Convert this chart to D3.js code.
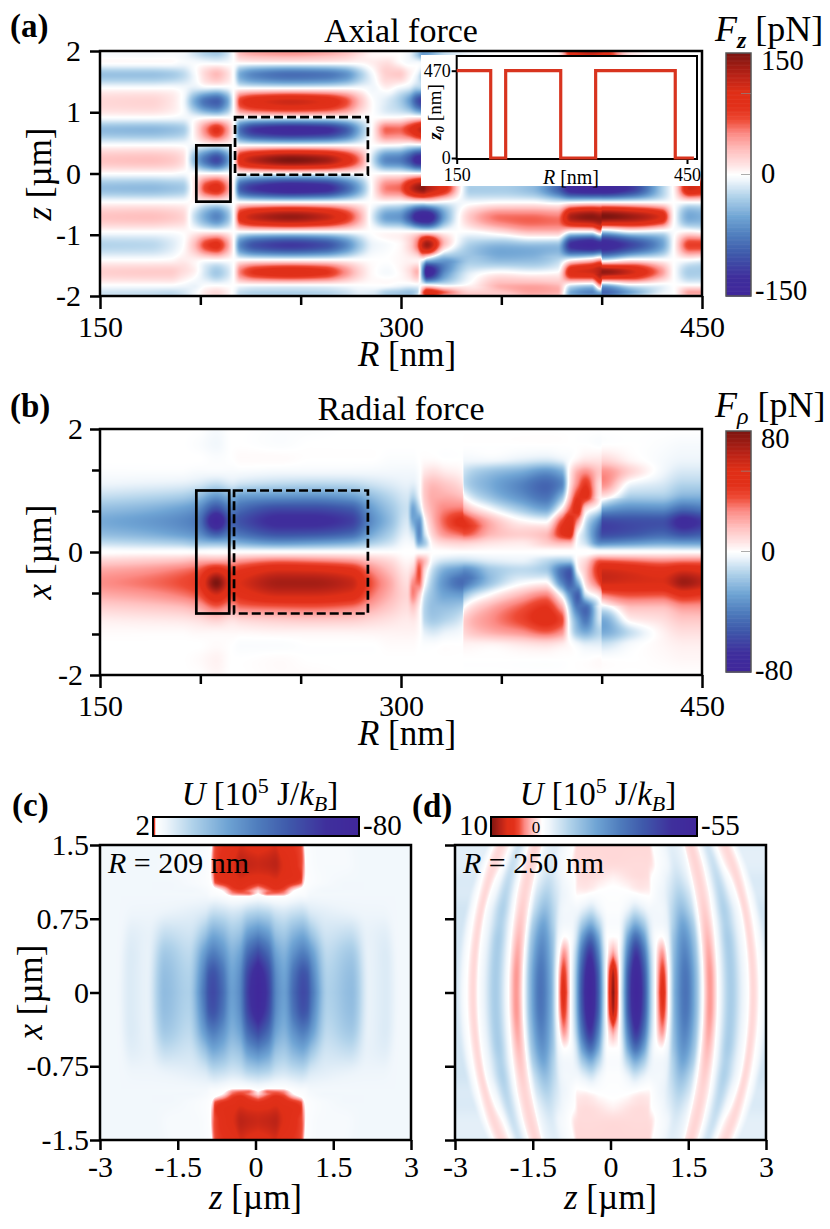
<!DOCTYPE html>
<html><head><meta charset="utf-8">
<script src="https://cdn.jsdelivr.net/npm/d3@7"></script>
<style>
html,body{margin:0;padding:0;background:#fff}
text{font-family:"Liberation Serif",serif;fill:#000}
</style></head><body><svg id="c" width="830" height="1229"></svg>
<script>
// ---------- Panel (a): Fz [pN], one array per R column ----------
const aZ=[2,1.93,1.8,1.61,1.39,1.17,.92,.71,.46,.22,0,-.24,-.47,-.71,-.95,-1.17,-1.41,-1.61,-1.82,-1.93,-2];
const aR=[150,175,185,191,197,203,208,213,216.5,220,228,245,262,272,280,286,293,299,304,308,311,313,322,335,350,365,378,385,395,399.5,400.5,415,430,436,444,450];
const aF=[
[-3,-3,0,-36,0,18,0,-40,0,28,0,-38,0,28,0,-26,0,22,0,-16,-16],
[-4,-4,0,-36,0,20,0,-42,0,30,0,-40,0,30,0,-24,0,24,0,-18,-18],
[-3,-3,0,-32,0,12,-2,-38,0,26,0,-36,0,26,0,-14,2,24,0,-20,-20],
[-3,-5,-4,-24,-4,-2,-5,-32,-1,16,-3,-32,0,20,2,-2,8,16,-4,-16,-16],
[-15,-15,-3,-5,-12,-48,-6,6,-6,-40,0,12,2,-20,4,30,6,6,-8,-6,-5],
[-25,-25,-2,20,-10,-85,-5,55,-5,-85,0,75,-2,-52,5,75,3,-18,-2,10,8],
[-30,-28,-3,32,-12,-95,-5,85,-5,-110,0,90,-2,-70,5,88,4,-32,-2,16,12],
[-18,-18,-3,18,-8,-60,-3,50,-3,-70,0,55,-2,-45,3,50,2,-20,-2,8,5],
[2,0,0,-2,0,-2,0,3,0,-2,0,2,0,-2,0,2,0,0,0,-3,-3],
[30,28,0,-50,0,75,0,-85,0,95,0,-95,0,90,0,-70,0,55,0,-20,-18],
[40,36,0,-72,0,98,0,-125,0,125,0,-125,0,120,0,-105,0,85,0,-25,-22],
[45,40,0,-85,0,112,0,-140,0,150,0,-146,0,138,0,-120,0,98,0,-26,-24],
[38,34,0,-80,0,100,0,-132,0,135,0,-135,0,118,0,-105,0,85,0,-24,-22],
[28,26,0,-65,0,72,0,-100,0,100,0,-95,0,85,0,-72,0,50,0,-18,-16],
[15,12,2,-30,-2,28,-2,-40,0,50,0,-45,0,35,0,-30,0,18,0,-10,-10],
[6,4,8,-4,-6,0,0,5,0,-20,0,5,0,-15,0,-8,0,2,0,-12,-12],
[3,3,15,22,5,-14,0,62,0,-70,0,55,0,-55,0,-3,0,-4,0,-26,-26],
[1,0,4,25,-6,-28,0,60,-2,-75,0,60,-2,-60,0,2,3,2,-4,-30,-30],
[-5,-8,-3,8,-14,-55,5,80,-10,-100,0,105,-2,-95,0,18,6,14,-6,-35,-30],
[-25,-30,-3,-8,-30,-100,6,105,-10,-135,0,135,-2,-140,0,55,6,35,-4,-25,-10],
[-50,-55,-5,-30,-30,-120,6,120,-10,-140,0,145,-3,-150,0,120,-4,-70,0,60,50],
[-50,-50,0,-20,0,-100,0,100,0,-100,0,130,0,-150,0,135,-30,-150,0,100,80],
[-20,-20,0,0,0,0,0,0,0,0,0,90,-5,-50,0,25,-55,-65,-10,60,40],
[-5,-5,0,0,0,0,0,0,0,0,0,-30,-5,28,0,-30,-32,-12,5,20,25],
[0,0,0,0,0,0,0,0,0,0,0,-30,0,58,15,-42,-42,0,35,28,20],
[0,0,0,0,0,0,0,0,0,0,0,-40,0,60,32,-38,-40,-5,38,42,32],
[5,5,0,0,0,0,0,0,0,0,0,-90,-10,55,32,-38,-26,0,32,38,26],
[100,80,0,0,0,0,0,0,0,0,0,-140,-5,130,0,-130,0,100,-10,-50,-40],
[130,100,0,0,0,0,0,0,0,0,0,-150,0,145,0,-150,20,110,-20,-70,-50],
[120,90,0,0,0,0,0,0,0,0,0,-150,0,140,40,-140,40,130,50,-40,-60],
[110,90,0,0,0,0,0,0,0,0,0,-150,0,150,-30,-140,-20,140,-40,-90,-70],
[10,10,0,0,0,0,0,0,0,0,0,-120,0,135,-5,-110,5,110,-5,-50,-30],
[0,0,0,0,0,0,0,0,0,0,0,-30,0,100,-10,-55,0,45,-5,-10,0],
[0,0,0,0,0,0,0,0,0,0,0,5,0,2,-2,0,0,0,0,0,0],
[0,0,0,0,0,0,0,0,0,0,0,110,0,-50,5,75,0,-30,0,40,30],
[0,0,0,0,0,0,0,0,0,0,0,100,0,-45,0,75,-5,-30,0,40,30]
];
// ---------- Panel (b): Frho [pN], upper half; lower half has opposite sign ----------
const bX=[2,1.75,1.5,1.3,1.1,.9,.7,.5,.3,.15,.03,0];
const bR=[150,170,190,199,208,216,220,240,255,275,285,295,303,306,309,312,316,322,330.5,331.5,345,360,372,380,384,388,392,399.5,400.5,415,430,441,450];
const bF=[
[0,0,0,-1,-4,-11,-20,-26,-21,-11,-1,0],
[0,0,0,-1,-5,-13,-23,-30,-24,-13,-2,0],
[0,0,0,-1,-6,-16,-29,-36,-30,-16,-2,0],
[0,-1,0,-2,-8,-21,-35,-42,-35,-20,-3,0],
[-2,-3,-1,-2,-12,-32,-56,-80,-52,-22,-2,0],
[0,0,0,-2,-8,-24,-40,-50,-40,-22,-3,0],
[0,0,1,-2,-10,-30,-46,-55,-44,-25,-4,0],
[-1,-1,1,-3,-13,-33,-58,-70,-56,-32,-5,0],
[-1,0,0,-3,-14,-34,-58,-70,-55,-30,-5,0],
[0,0,0,-3,-13,-30,-52,-62,-48,-25,-4,0],
[0,0,0,-3,-10,-21,-31,-36,-28,-16,-3,0],
[0,0,-1,-3,-7,-13,-18,-20,-15,-9,-2,0],
[0,0,-1,-3,-5,-8,-10,-8,-5,-2,0,0],
[0,0,-1,-3,-6,-14,-28,-26,-12,-4,0,0],
[0,0,0,-1,-2,-4,-14,-32,-36,-26,-3,0],
[0,0,1,6,13,14,10,0,-8,-16,-3,0],
[0,0,1,8,17,20,20,18,12,4,0,0],
[0,0,0,5,14,20,28,34,26,10,1,0],
[0,0,0,2,7,16,30,46,34,12,2,0],
[0,0,-3,-10,-12,0,20,44,36,12,2,0],
[0,0,-3,-20,-26,-20,-2,18,18,7,1,0],
[0,0,-6,-26,-38,-34,-18,2,12,5,1,0],
[0,0,-8,-34,-48,-44,-28,-2,16,12,1,0],
[0,0,-5,-26,-38,-22,3,36,44,18,1,0],
[0,0,-1,3,5,14,32,50,52,18,1,0],
[0,0,3,20,28,42,50,26,2,-2,0,0],
[0,0,6,26,42,46,10,-8,-14,-10,0,0],
[0,-1,6,14,8,4,-10,-42,-52,-36,-4,0],
[0,0,10,26,26,6,-28,-58,-58,-36,-4,0],
[0,0,2,10,-4,-16,-36,-56,-54,-32,-4,0],
[0,-1,-2,-3,-8,-16,-35,-55,-48,-28,-4,0],
[0,-2,-4,-8,-14,-24,-46,-72,-56,-30,-5,0],
[0,-2,-4,-8,-14,-24,-42,-64,-52,-30,-5,0]
];
// ---------- Panel (c): U, one array per x row; both axes mirrored ----------
const cDz=[0,.2,.36,.5,.7,.87,.94,1.05,1.35,1.8,2.15,2.47,2.75,3.05,3.6];
const cX=[0,.2,.4,.6,.8,.98,1.04,1.12,1.3,1.5];
const cU=[
[-80,-62,-36,-30,-48,-58,-56,-42,-15,-21,-5,-7,-3,-3,-3],
[-75,-58,-34,-28,-44,-54,-52,-38,-14,-20,-5,-7,-3,-3,-3],
[-58,-46,-28,-24,-34,-40,-38,-30,-12,-17,-5,-7,-3,-3,-3],
[-36,-30,-19,-17,-23,-26,-24,-18,-9,-11,-5,-6,-3,-3,-3],
[-16,-14,-10,-9,-11,-12,-11,-8,-6,-5,-4,-4,-3,-3,-3],
[-1,0,.05,0,-1,-2,-2,-3,-3,-3,-3,-3,-3,-3,-3],
[.3,.8,1,.9,.2,-.5,-1,-2,-3,-3,-3,-3,-3,-3,-3],
[1.1,1.2,1.3,1.2,1.1,.9,.1,-1,-2,-3,-3,-3,-3,-3,-3],
[1.5,1.55,1.6,1.4,1.2,1,.7,-1,-2,-2,-3,-3,-3,-3,-3],
[1.2,1.3,1.4,1.2,1.1,1,.8,-1,-2,-2,-3,-3,-3,-3,-3]
];
const cRingLength=3.5;
// ---------- Panel (d): U, rows of x, columns in ring coordinate; both axes mirrored ----------
const dDz=[0,.1,.17,.3,.45,.6,.75,.85,.96,1.07,1.2,1.4,1.6,1.75,1.87,2,2.27,2.5,2.7,2.85,3.05,3.8];
const dX=[0,.2,.4,.55,.7,.85,1,1.15,1.3,1.5];
const dU=[
[10,3,-8,-38,-55,-38,-8,2,6,0,-18,-30,-15,.5,3,.5,-11,-3,1.2,-.5,-6,-6],
[8.5,2.5,-7,-36,-52,-36,-8,1.5,5,0,-17,-29,-15,.5,3,.5,-11,-3,1.2,-.5,-6,-6],
[3,.5,-6,-28,-44,-30,-7,.5,3,-1,-15,-26,-14,.5,2.6,.4,-11,-3,1.2,-.5,-6,-6],
[.3,0,-4,-20,-32,-22,-5,-.5,.4,-2,-13,-23,-13,.5,2.2,.4,-11,-3,1.2,-.5,-6,-6],
[-1,-1,-3,-10,-17,-12,-4,-2,-2,-3,-10,-19,-11,.5,1.8,.4,-10,-3,1.2,-.4,-6,-6],
[-.5,-.5,-1,-3,-6,-4,-2,-2,-2,-3,-8,-14,-8,.5,1.5,.4,-10,-3,1.2,-.3,-6,-6],
[-.3,-.3,-.3,-.4,-.3,.1,.2,-.8,-2,-3,-6,-10,-6,.6,1.3,.5,-9,-2,1.2,-.2,-5,-5],
[.3,.4,.5,.7,.9,1,.9,-.2,-1,-2,-4,-7,-4,.7,1.3,.5,-8,-1,1.2,0,-5,-5],
[1.1,1.1,1.1,1.1,1.1,1.1,1.1,.9,0,-1,-2,-5,-3,.8,1.3,.6,-7,0,1.2,.2,-4,-4],
[1.2,1.2,1.2,1.2,1.2,1.2,1.2,1.2,-.1,-.8,-2,-4,-3,.8,1.3,.6,-6,.2,1.2,.3,-4,-4]
];
const dRingLength=2.5;
// ---------- Inset: z0 versus R ----------
const insetR=[150,194.3,194.3,213.8,213.8,285.5,285.5,331,331,434.7,434.7,459];
const insetZ=[470,470,0,0,470,470,0,0,470,470,0,0];
// ---------- Boxes [R0,R1,top,bottom] ----------
const aSolid=[198,215,.46,-.46], aDash=[217.3,283.5,.92,-.02];
const bSolid=[198,214.4,1,-1], bDash=[216.8,283.5,1,-1];
// ---------- Tick values ----------
const rTicks=[150,200,250,300,350,400,450], rLabels=[150,300,450];
const aYTicks=[-2,-1,0,1,2];
const bYTicks=[-2,-4/3,-2/3,0,2/3,4/3,2], bYLabels=[-2,0,2];
const uXTicks=[-3,-1.5,0,1.5,3];
const uYTicks=[-1.5,-.75,0,.75,1.5];

// ---------- Colour map ----------
const cmap=d3.scaleLinear()
 .domain([-1,-.84,-.65,-.5,-.35,-.18,-.05,0,.08,.2,.34,.45,.55,.68,.82,1])
 .range(["#40279b","#3f2f9c","#3f5aab","#4f7dbd","#6fa4d4","#b0d2ea","#eef5fb","#ffffff","#ffe4e4","#ffc0bf","#fc8a84","#ee4a35","#e2301a","#df2f17","#b72217","#7d1510"])
 .clamp(true);

const svg=d3.select("#c");

function makeSampler(xs,ys,byCol,k=1){ // xs, ys ascending; byCol[i][j]
 const hermite=(h,t,a,b,ma,mb)=>{const t2=t*t,t3=t2*t;return (2*t3-3*t2+1)*a+(t3-2*t2+t)*h*ma+(-2*t3+3*t2)*b+(t3-t2)*h*mb;};
 const ny=ys.length,nx=xs.length;
 const colAt=(c,y)=>{
  const f=byCol[c];
  let j=d3.bisectRight(ys,y)-1; j=Math.max(0,Math.min(ny-2,j));
  const h=ys[j+1]-ys[j],t=Math.max(0,Math.min(1,(y-ys[j])/h));
  const m0=j>0?k*(f[j+1]-f[j-1])/(ys[j+1]-ys[j-1]):(f[1]-f[0])/h;
  const m1=j<ny-2?k*(f[j+2]-f[j])/(ys[j+2]-ys[j]):(f[j+1]-f[j])/h;
  return hermite(h,t,f[j],f[j+1],m0,m1);
 };
 return (x,y)=>{
  let i=d3.bisectRight(xs,x)-1; i=Math.max(0,Math.min(nx-2,i));
  const h=xs[i+1]-xs[i],t=Math.max(0,Math.min(1,(x-xs[i])/h));
  const a=colAt(i,y),b=colAt(i+1,y);
  const s=(b-a)/h;
  let m0=0,m1=0;
  if(i>0){const p=colAt(i-1,y),sp=(a-p)/(xs[i]-xs[i-1]);if(sp*s>0)m0=2*sp*s/(sp+s);}
  else m0=s;
  if(i<nx-2){const n=colAt(i+2,y),sn=(n-b)/(xs[i+2]-xs[i+1]);if(sn*s>0)m1=2*sn*s/(sn+s);}
  else m1=s;
  return hermite(h,t,a,b,m0,m1);
 };
}
function transpose(m){return m[0].map((_,c)=>m.map(r=>r[c]));}
function ascRows(ys,cols){return {ys:ys.slice().reverse(),cols:cols.map(c=>c.slice().reverse())};}

function heat(g,x,y,val,color){
 const [x0,x1]=x.range(),[y1,y0]=y.range();
 const W=Math.round(x1-x0),H=Math.round(y1-y0);
 const cv=document.createElement("canvas");cv.width=W;cv.height=H;
 const ctx=cv.getContext("2d"),im=ctx.createImageData(W,H);
 for(let py=0;py<H;py++)for(let px=0;px<W;px++){
  const c=d3.rgb(color(val(x.invert(x0+px+.5),y.invert(y0+py+.5))));
  const k=(py*W+px)*4;im.data[k]=c.r;im.data[k+1]=c.g;im.data[k+2]=c.b;im.data[k+3]=255;
 }
 ctx.putImageData(im,0,0);
 g.append("image").attr("x",x0).attr("y",y0).attr("width",W).attr("height",H).attr("href",cv.toDataURL());
}
function rich(parent,x,y,parts,size,anchor,rot){
 const t=parent.append("text").attr("x",x).attr("y",y).attr("font-size",size).attr("text-anchor",anchor||"start");
 if(rot)t.attr("transform",`rotate(${rot} ${x} ${y})`);
 parts.forEach(p=>{
  const s=t.append("tspan").text(p[0]);
  if(p[1]&&p[1].i)s.attr("font-style","italic");
  if(p[1]&&p[1].b)s.attr("font-weight","bold");
  if(p[1]&&p[1].dy)s.attr("dy",p[1].dy);
  if(p[1]&&p[1].size)s.attr("font-size",p[1].size);
 });
 return t;
}
function axes(g,x,y,xt,xl,yt,yl,o){
 const has=(l,d)=>l.some(v=>Math.abs(v-d)<1e-6);
 const fmt=(l)=>d=>{const m=l.find(v=>Math.abs(v-d)<1e-6);return m===undefined?"":String(m);};
 const gx=g.append("g").attr("transform",`translate(0,${y.range()[0]})`).call(d3.axisBottom(x).tickValues(xt).tickFormat(fmt(xl)).tickSize(o.xTick).tickSizeOuter(0).tickPadding(o.xPad));
 const gy=g.append("g").attr("transform",`translate(${x.range()[0]},0)`).call(d3.axisLeft(y).tickValues(yt).tickFormat(fmt(yl)).tickSize(10).tickSizeOuter(0).tickPadding(o.yPad));
 [gx,gy].forEach(a=>{a.select(".domain").remove();a.selectAll("line").attr("stroke","#000").attr("stroke-width",2.5);a.selectAll("text").attr("font-size",30).attr("font-family","Liberation Serif").attr("fill","#000");});
 gx.selectAll(".tick").filter(d=>!has(xl,d)).select("line").attr("y2",9);
 if(o.yMinor) gy.selectAll(".tick").filter(d=>!has(yl,d)).select("line").attr("x2",-8);
 g.append("rect").attr("x",x.range()[0]).attr("y",y.range()[1]).attr("width",x.range()[1]-x.range()[0]).attr("height",y.range()[0]-y.range()[1]).attr("fill","none").attr("stroke","#000").attr("stroke-width",2.5);
}
function box(g,x,y,b,dash){
 const r=g.append("rect").attr("x",x(b[0])).attr("y",y(b[2])).attr("width",x(b[1])-x(b[0])).attr("height",y(b[3])-y(b[2])).attr("fill","none").attr("stroke","#000").attr("stroke-width",2.7);
 if(dash)r.attr("stroke-dasharray","9 4");
}
function vbar(g,lim,top,bot,labels){
 const cb=d3.scaleLinear().domain([-lim,lim]).range([bot,top]);
 const st=lim/150;
 d3.range(-lim,lim,st).forEach(v=>g.append("rect").attr("x",726).attr("width",25).attr("y",cb(v+st)).attr("height",cb(v)-cb(v+st)+.6).attr("fill",cmap(v/lim)));
 g.append("rect").attr("x",726).attr("y",top).attr("width",25).attr("height",bot-top).attr("fill","none").attr("stroke","#555").attr("stroke-width",1.5);
 [0,lim*2/3].forEach(v=>g.append("line").attr("x1",741).attr("x2",751).attr("y1",cb(v)).attr("y2",cb(v)).attr("stroke","#888").attr("stroke-width",.7));
 labels.forEach(d=>rich(g,d[0]<0?755:761,d[1],[[String(d[0])]],28.5));
}

// ---- Panel a ----
{
 const x=d3.scaleLinear().domain([150,450]).range([100,702]);
 const y=d3.scaleLinear().domain([-2,2]).range([296,51]);
 const g=svg.append("g");
 const A=ascRows(aZ,aF),s=makeSampler(aR,A.ys,A.cols,1.4);
 heat(g,x,y,s,v=>cmap(v/150));
 box(g,x,y,aSolid,false);box(g,x,y,aDash,true);
 axes(g,x,y,rTicks,rLabels,aYTicks,[-2,-1,0,1,2],{xTick:13,xPad:7,yPad:9});
 rich(g,401,42,[["Axial force"]],34,"middle");
 rich(g,10,37,[["(a)",{b:1}]],33);
 rich(g,407,366,[["R",{i:1}],[" [nm]"]],35,"middle");
 rich(g,51,174,[["z",{i:1}],[" [µm]"]],35,"middle",-90);
 // inset
 g.append("rect").attr("x",421).attr("y",55).attr("width",279).attr("height",131).attr("fill","#fff");
 const ix=d3.scaleLinear().domain([150,450]).range([456.7,687]);
 const iy=d3.scaleLinear().domain([0,470]).range([158,70.7]);
 const ig=g.append("g");
 ig.append("rect").attr("x",456.7).attr("y",56).attr("width",240.3).attr("height",103).attr("fill","none").attr("stroke","#000").attr("stroke-width",2);
 const iax=ig.append("g").attr("transform","translate(0,159)").call(d3.axisBottom(ix).tickValues([150,450]).tickSize(5).tickSizeOuter(0).tickPadding(4));
 const iay=ig.append("g").attr("transform","translate(456.7,0)").call(d3.axisLeft(iy).tickValues([0,470]).tickSize(5).tickSizeOuter(0).tickPadding(1));
 [iax,iay].forEach(a=>{a.select(".domain").remove();a.selectAll("line").attr("stroke","#000").attr("stroke-width",2);a.selectAll("text").attr("font-size",18).attr("font-family","Liberation Serif").attr("fill","#000");});
 ig.append("path").datum(insetR.map((r,i)=>[r,insetZ[i]])).attr("fill","none").attr("stroke","#d8341f").attr("stroke-width",3.2)
   .attr("d",d3.line().x(d=>ix(d[0])).y(d=>iy(d[1])));
 rich(ig,571,184,[["R",{i:1}],[" [nm]"]],20,"middle");
 rich(ig,441,112,[["z",{i:1,b:1}],["0",{i:1,b:1,size:13,dy:3}],[" [nm]",{dy:-3}]],19,"middle",-90);
 vbar(g,150,53,296,[[150,70],[0,183],[-150,300]]);
 rich(g,715,41,[["F",{i:1}],["z",{i:1,b:1,size:24,dy:7}],[" [pN]",{dy:-7}]],36);
}
// ---- Panel b ----
{
 const x=d3.scaleLinear().domain([150,450]).range([100,702]);
 const y=d3.scaleLinear().domain([-2,2]).range([675,429]);
 const g=svg.append("g");
 const A=ascRows(bX,bF),s=makeSampler(bR,A.ys,A.cols);
 heat(g,x,y,(r,v)=>v>=0?s(r,v):-s(r,-v),v=>cmap(v/80));
 box(g,x,y,bSolid,false);box(g,x,y,bDash,true);
 axes(g,x,y,rTicks,rLabels,bYTicks,bYLabels,{xTick:13,xPad:7,yPad:7,yMinor:1});
 rich(g,401,420,[["Radial force"]],34,"middle");
 rich(g,10,417,[["(b)",{b:1}]],33);
 rich(g,407,745,[["R",{i:1}],[" [nm]"]],35,"middle");
 rich(g,51,552,[["x",{i:1}],[" [µm]"]],35,"middle",-90);
 vbar(g,80,431,672,[[80,448],[0,561],[-80,680]]);
 rich(g,715,417,[["F",{i:1}],["ρ",{i:1,size:24,dy:7}],[" [pN]",{dy:-7}]],36);
}
// ---- Panels c, d ----
function uPanel(opts){
 const x=d3.scaleLinear().domain([-3,3]).range(opts.xr);
 const y=d3.scaleLinear().domain([-1.5,1.5]).range([1140,845]);
 const g=svg.append("g");
 const cols=transpose(opts.U),s=makeSampler(opts.dz,opts.xs,cols);
 const col=v=>cmap(v<0?v/opts.neg:v/opts.pos);
 heat(g,x,y,(z,v)=>{const a=Math.abs(v),w=Math.sqrt(1-(a/opts.ring)**2);return s(Math.abs(z-.05)/w,a);},col);
 axes(g,x,y,uXTicks,uXTicks,uYTicks,opts.yl,{xTick:10,xPad:6,yPad:1,yMinor:0});
 rich(g,opts.xr[0]+8,873,[["R",{i:1}],[" = "+opts.label+" nm"]],30);
 rich(g,(opts.xr[0]+opts.xr[1])/2,1209,[["z",{i:1}],[" [µm]"]],35,"middle");
 const cb=d3.scaleLinear().domain(opts.cbD).range(opts.cbR);
 const n=206;
 d3.range(0,n).forEach(i=>{const px=opts.cbR[0]+i;g.append("rect").attr("x",px).attr("y",817).attr("width",1.5).attr("height",19).attr("fill",col(cb.invert(px+.5)));});
 g.append("rect").attr("x",opts.cbR[0]).attr("y",817).attr("width",n).attr("height",19).attr("fill","none").attr("stroke","#000").attr("stroke-width",2);
 rich(g,opts.titleX,805,[["U",{i:1}],[" [10"],["5",{size:22,dy:-12}],[" J/",{dy:12}],["k",{i:1}],["B",{i:1,size:22,dy:6}],["]",{dy:-6}]],33,"middle");
 rich(g,opts.cbR[0]-3,835,[[opts.lo]],29,"end");
 rich(g,opts.cbR[0]+n+4,835,[[opts.hi]],29);
}
uPanel({xr:[100,411],U:cU,dz:cDz,xs:cX,neg:80,pos:2,yl:uYTicks.map(d=>d),ring:cRingLength,label:"209",cbD:[2,0,-80],cbR:[153,156,359],titleX:260,lo:"2",hi:"-80"});
uPanel({xr:[455,766],U:dU,dz:dDz,xs:dX,neg:55,pos:10,yl:[],ring:dRingLength,label:"250",cbD:[10,0,-55],cbR:[491,542,697],titleX:598,lo:"10",hi:"-55"});
rich(svg,42,992,[["x",{i:1}],[" [µm]"]],35,"middle",-90);
rich(svg,12,816,[["(c)",{b:1}]],33);
rich(svg,412,817,[["(d)",{b:1}]],33);
rich(svg,536,833,[["0"]],17,"middle");
</script></body></html>
